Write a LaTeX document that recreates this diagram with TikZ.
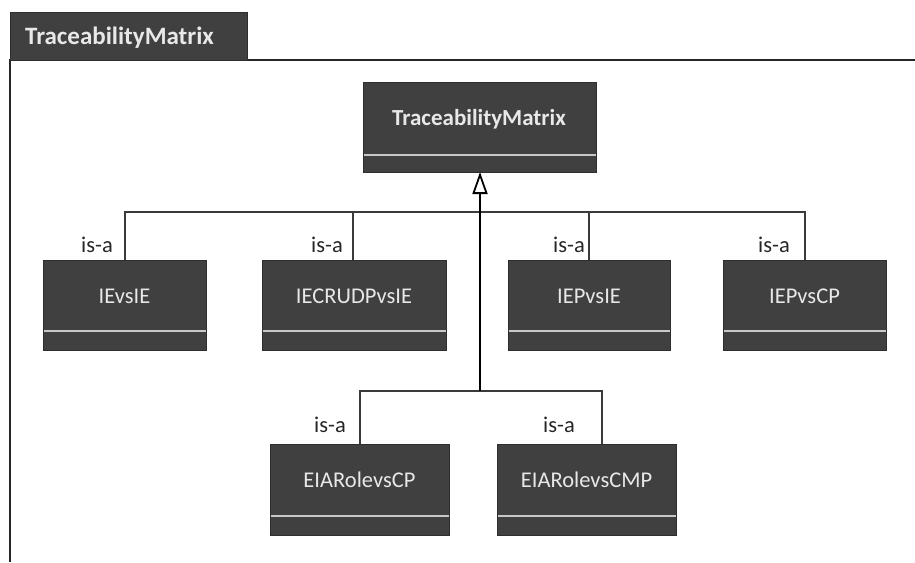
\documentclass[tikz,border=0pt]{standalone}
\usepackage{fontspec}
\setmainfont{Carlito}
\usetikzlibrary{arrows.meta}
\definecolor{boxfill}{HTML}{404040}
\definecolor{boxline}{HTML}{2E2E2E}
\definecolor{sepline}{HTML}{C8C8C8}
\definecolor{boxtext}{HTML}{E8E8E8}
\definecolor{conn}{HTML}{3A3A3A}
\tikzset{
  sep/.style={draw=sepline, line width=1.6pt},
  boxlabel/.style={text=boxtext, font=\fontsize{22.5}{26}\selectfont, inner sep=0pt, anchor=base},
  isalabel/.style={font=\fontsize{22.5}{26}\selectfont, anchor=base east, inner sep=0pt, text=black!85},
  connector/.style={draw=conn, line width=1.2pt},
  trunk/.style={draw=black, line width=2.2pt}
}
\begin{document}
\begin{tikzpicture}[x=1pt,y=-1pt]
\useasboundingbox (0,0) rectangle (915,562);
% frame
\draw[black!85, line width=1.2pt] (10,562) -- (10,60) -- (915,60);
\fill[boxfill] (10,12) rectangle (247,60);
\draw[boxline, line width=0.8pt] (10,12) rectangle (247,60);
\node[text=boxtext, font=\bfseries\fontsize{25}{28}\selectfont, anchor=base west, inner sep=0pt] (tabtitle) at (25,44) {TraceabilityMatrix};
% top class
\fill[boxfill] (363,82) rectangle (596,172);
\draw[sep] (363,155) -- (596,155);
\draw[boxline, line width=0.8pt] (363,82) rectangle (596,172);
\node[text=boxtext, font=\bfseries\fontsize{23}{26}\selectfont, inner sep=0pt, anchor=base] (tmtext) at (479,125) {TraceabilityMatrix};
\coordinate (tm) at (480,172);
% children row 1
\fill[boxfill] (43,260) rectangle (206,350);
\draw[sep] (43,331) -- (206,331);
\draw[boxline, line width=0.8pt] (43,260) rectangle (206,350);
\node[boxlabel] (ievsie) at (124.5,303) {IEvsIE};
\fill[boxfill] (262,260) rectangle (446,350);
\draw[sep] (262,331) -- (446,331);
\draw[boxline, line width=0.8pt] (262,260) rectangle (446,350);
\node[boxlabel] (iecrud) at (354,303) {IECRUDPvsIE};
\fill[boxfill] (508,260) rectangle (670,350);
\draw[sep] (508,331) -- (670,331);
\draw[boxline, line width=0.8pt] (508,260) rectangle (670,350);
\node[boxlabel] (iepvsie) at (589,303) {IEPvsIE};
\fill[boxfill] (723,260) rectangle (886,350);
\draw[sep] (723,331) -- (886,331);
\draw[boxline, line width=0.8pt] (723,260) rectangle (886,350);
\node[boxlabel] (iepvscp) at (804.5,303) {IEPvsCP};
% children row 2
\fill[boxfill] (270,444) rectangle (449,535);
\draw[sep] (270,516) -- (449,516);
\draw[boxline, line width=0.8pt] (270,444) rectangle (449,535);
\node[boxlabel] (eiacp) at (359.5,487) {EIARolevsCP};
\fill[boxfill] (497,444) rectangle (676,535);
\draw[sep] (497,516) -- (676,516);
\draw[boxline, line width=0.8pt] (497,444) rectangle (676,535);
\node[boxlabel] (eiacmp) at (586.5,487) {EIARolevsCMP};
% connectors
\coordinate (h2) at (480,391);
\draw[connector] (125,260) -- (125,212) -- (805,212) -- (805,260);
\draw[connector] (353,212) -- (353,260);
\draw[connector] (589,212) -- (589,260);
\draw[connector] (360,444) -- (360,391) -- (602,391) -- (602,444);
\draw[trunk, -{Triangle[open, fill=white, length=22pt, width=15pt, line width=1.8pt]}] (h2) -- (tm);
% is-a labels
\node[isalabel] (l1) at (113,252) {is-a};
\node[isalabel] (l2) at (343,252) {is-a};
\node[isalabel] (l3) at (585,252) {is-a};
\node[isalabel] (l4) at (790,252) {is-a};
\node[isalabel] (l5) at (346,432) {is-a};
\node[isalabel] (l6) at (575,432) {is-a};
\end{tikzpicture}
\end{document}
